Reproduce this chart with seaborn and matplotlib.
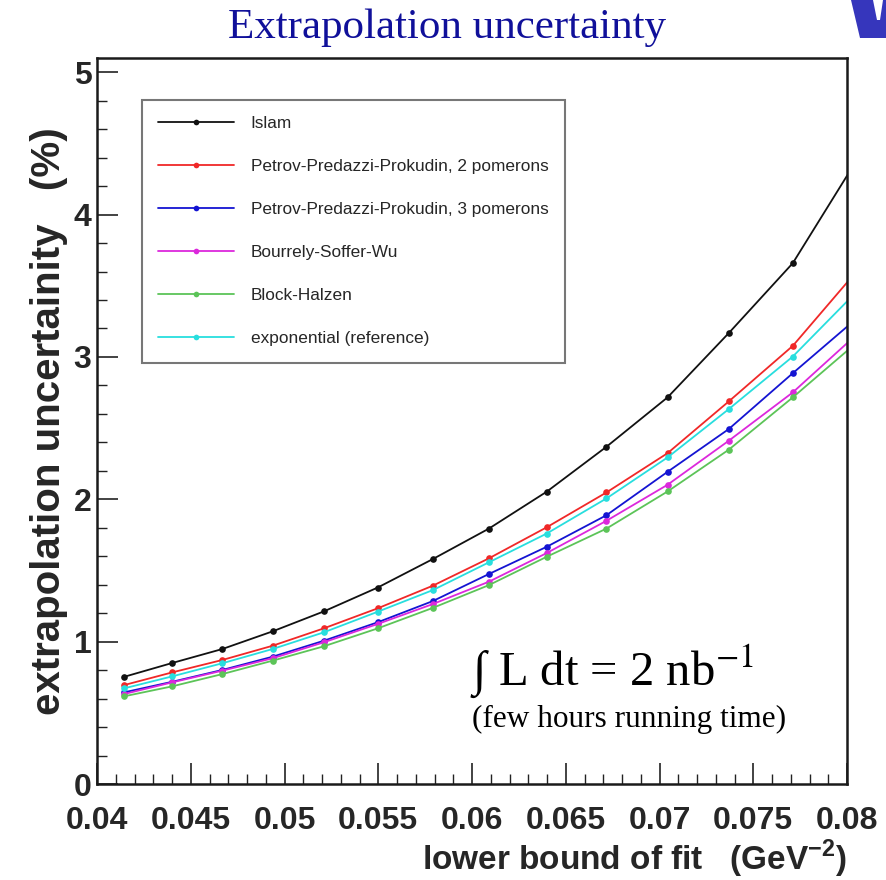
import matplotlib
matplotlib.use("Agg")
import matplotlib.pyplot as plt
from matplotlib.patches import Polygon
from matplotlib.ticker import MultipleLocator, FixedLocator
import seaborn as sns
import pandas as pd

# ---------------- data ----------------
t_lower = [0.04145, 0.04401, 0.04668, 0.04936, 0.05209, 0.05497, 0.05791,
           0.06090, 0.06398, 0.06717, 0.07043, 0.07369, 0.07711, 0.08060]

islam     = [0.753, 0.850, 0.948, 1.072, 1.212, 1.380, 1.580, 1.794, 2.053, 2.369, 2.716, 3.167, 3.659, 4.400]
ppp2      = [0.695, 0.784, 0.871, 0.971, 1.093, 1.234, 1.393, 1.585, 1.803, 2.048, 2.324, 2.687, 3.078, 3.615]
ppp3      = [0.644, 0.718, 0.801, 0.894, 1.006, 1.136, 1.285, 1.475, 1.666, 1.888, 2.193, 2.493, 2.886, 3.280]
bsw       = [0.632, 0.714, 0.796, 0.883, 0.995, 1.124, 1.264, 1.421, 1.622, 1.849, 2.102, 2.411, 2.751, 3.168]
blockh    = [0.616, 0.686, 0.772, 0.866, 0.967, 1.093, 1.237, 1.397, 1.596, 1.794, 2.055, 2.348, 2.716, 3.110]
expo      = [0.672, 0.756, 0.848, 0.948, 1.065, 1.210, 1.362, 1.557, 1.759, 2.006, 2.294, 2.633, 3.003, 3.470]

series_names = ["Islam",
                "Petrov-Predazzi-Prokudin, 2 pomerons",
                "Petrov-Predazzi-Prokudin, 3 pomerons",
                "Bourrely-Soffer-Wu",
                "Block-Halzen",
                "exponential (reference)"]
series_values = [islam, ppp2, ppp3, bsw, blockh, expo]
series_colors = ["#111111", "#f02828", "#1414d2", "#dc28dc", "#5cc458", "#28dede"]

x_ticks = [0.04, 0.045, 0.05, 0.055, 0.06, 0.065, 0.07, 0.075, 0.08]
x_tick_labels = ["0.04", "0.045", "0.05", "0.055", "0.06", "0.065", "0.07", "0.075", "0.08"]
y_ticks = [0, 1, 2, 3, 4, 5]

title_text = "Extrapolation uncertainty"
ylabel_text = "extrapolation uncertainity   (%)"
xlabel_text = r"lower bound of fit   (GeV$^{\mathbf{-2}}$)"
lumi_text = r"∫ L dt = 2 nb$^{\mathrm{-1}}$"
lumi_sub = "(few hours running time)"

# ---------------- style ----------------
sns.set_theme(style="white")
plt.rcParams["font.family"] = ["Liberation Sans", "DejaVu Sans"]
plt.rcParams["mathtext.fontset"] = "custom"
plt.rcParams["mathtext.rm"] = "Liberation Sans"
plt.rcParams["mathtext.bf"] = "Liberation Sans:bold"

W, H = 886, 880
fig = plt.figure(figsize=(W / 100, H / 100), dpi=100)
ax_l, ax_r, ax_t, ax_b = 97, 847, 58, 784
ax = fig.add_axes([ax_l / W, 1 - ax_b / H, (ax_r - ax_l) / W, (ax_b - ax_t) / H])

rows = []
for name, vals in zip(series_names, series_values):
    for x, y in zip(t_lower, vals):
        rows.append({"t": x, "unc": y, "model": name})
df = pd.DataFrame(rows)

for name, col in zip(series_names, series_colors):
    sns.lineplot(data=df[df["model"] == name], x="t", y="unc", ax=ax,
                 color=col, marker="o", markersize=4.8, markeredgewidth=0,
                 linewidth=1.3, label=name, sort=False, clip_on=True)

ax.set_xlim(0.04, 0.08)
ax.set_ylim(0, 5.1)

ax.xaxis.set_major_locator(FixedLocator(x_ticks))
ax.set_xticklabels(x_tick_labels)
ax.xaxis.set_minor_locator(MultipleLocator(0.001))
ax.yaxis.set_major_locator(FixedLocator(y_ticks))
ax.yaxis.set_minor_locator(MultipleLocator(0.2))

ax.tick_params(axis="both", which="both", direction="in", top=False, right=False,
               bottom=True, left=True, color="#222222")
ax.tick_params(axis="both", which="major", length=15, width=1.2)
ax.tick_params(axis="both", which="minor", length=7.5, width=1.0)
ax.tick_params(axis="x", which="major", pad=15.5, labelsize=23)
ax.tick_params(axis="y", which="major", pad=4, labelsize=23)
for lab in ax.get_xticklabels() + ax.get_yticklabels():
    lab.set_fontweight("bold")

for sp in ax.spines.values():
    sp.set_visible(True)
    sp.set_color("#1a1a1a")
    sp.set_linewidth(1.8)

ax.set_ylabel(ylabel_text, fontsize=29, fontweight="bold", labelpad=4)
ax.set_xlabel(xlabel_text, fontsize=24, fontweight="bold", loc="right", labelpad=1.5)

leg = ax.legend(loc="upper left", bbox_to_anchor=((141.7 - ax_l) / (ax_r - ax_l), 1 - (100 - ax_t) / (ax_b - ax_t)),
                borderaxespad=0, fontsize=12.4, frameon=True, fancybox=False,
                handlelength=4.4, handletextpad=0.97, labelspacing=1.62,
                borderpad=0.95, numpoints=1, markerscale=0.85)
leg.get_frame().set_edgecolor("#555555")
leg.get_frame().set_linewidth(1.5)
leg.get_frame().set_facecolor("white")

# title and annotations
fig.text(446.5 / W, 1 - 28 / H, title_text, ha="center", va="center",
         fontsize=31, color="#10109a", family=["Liberation Serif", "DejaVu Serif"])
fig.text(470 / W, 1 - 685 / H, lumi_text, ha="left", va="baseline",
         fontsize=35, color="black", family=["Liberation Serif", "DejaVu Serif"],
         math_fontfamily="stix")
fig.text(472 / W, 1 - 727 / H, lumi_sub, ha="left", va="baseline",
         fontsize=22.5, color="black", family=["Liberation Serif", "DejaVu Serif"])

# partial logo in the top-right corner
logo = Polygon([(851 / W, 1.0), (860 / W, 1 - 38 / H), (886 / W, 1 - 38 / H), (886 / W, 1.0)],
               closed=True, transform=fig.transFigure, facecolor="#3636bc", edgecolor="none")
notch = Polygon([(873 / W, 1.0), (877 / W, 1 - 20 / H), (880 / W, 1 - 20 / H), (883 / W, 1.0)],
                closed=True, transform=fig.transFigure, facecolor="white", edgecolor="none")
fig.patches.extend([logo, notch])

fig.savefig("out.png", dpi=100)
